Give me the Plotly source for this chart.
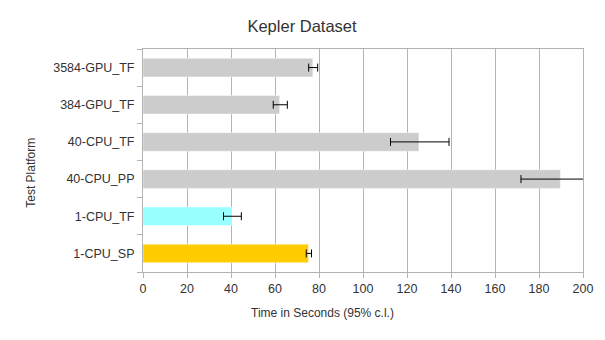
import plotly.graph_objects as go

platforms = ["1-CPU_SP", "1-CPU_TF", "40-CPU_PP", "40-CPU_TF", "384-GPU_TF", "3584-GPU_TF"]
seconds = [75.2, 40.3, 189.7, 125.4, 62.1, 77.2]
ci_plus = [1.4, 4.4, 18.0, 13.7, 3.5, 2.2]
ci_minus = [1.0, 3.7, 17.9, 12.9, 2.9, 1.9]
bar_colors = ["#ffcc00", "#99ffff", "#cccccc", "#cccccc", "#cccccc", "#cccccc"]
x_ticks = list(range(0, 201, 20))

font = "Liberation Sans, Arial, sans-serif"
grid = "#b3b3b3"

fig = go.Figure(go.Bar(
    x=seconds,
    y=platforms,
    orientation="h",
    marker=dict(color=bar_colors, line=dict(color="rgba(255,255,255,0.45)", width=1)),
    error_x=dict(type="data", symmetric=False, array=ci_plus, arrayminus=ci_minus,
                 color="black", thickness=1, width=4),
    width=0.5,
))

# the page body adds an 8px offset, so the margins are shifted to compensate
fig.update_layout(
    width=605, height=340,
    margin=dict(l=135, r=30, t=41, b=76),
    paper_bgcolor="white", plot_bgcolor="white",
    font=dict(family=font, size=12.5, color="#333333"),
    showlegend=False,
    title=dict(text="Kepler Dataset", x=0.486, xanchor="center", y=0.947, yanchor="middle",
               font=dict(size=16.5, color="#333333")),
    xaxis=dict(range=[0, 200], tickvals=x_ticks, showgrid=True, gridcolor=grid, gridwidth=1,
               showline=True, linecolor=grid, mirror=True, ticks="outside", ticklen=5,
               tickcolor=grid, zeroline=False),
    yaxis=dict(showgrid=False, showline=True, linecolor=grid, mirror=True,
               ticks="outside", ticklen=5, tickcolor=grid, tickson="boundaries",
               ticklabelstandoff=5),
    annotations=[
        dict(text="Time in Seconds (95% c.l.)", xref="paper", yref="paper", x=0.407, y=-0.185,
             xanchor="center", yanchor="middle", showarrow=False, font=dict(size=12)),
        dict(text="Test Platform", xref="paper", yref="paper", x=-0.255, y=0.444, textangle=-90,
             xanchor="center", yanchor="middle", showarrow=False, font=dict(size=12)),
    ],
)

fig.write_html("out.html")
